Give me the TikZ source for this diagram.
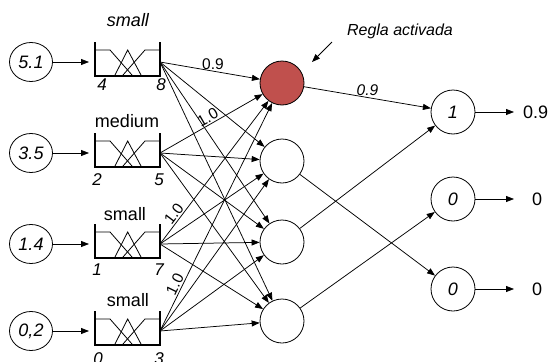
\documentclass[tikz,border=0pt]{standalone}
\usepackage{fontspec}
\setmainfont{Liberation Sans}
\usetikzlibrary{arrows.meta,shapes.geometric}
\definecolor{rulered}{RGB}{192,80,77}

\tikzset{
  % membership-function box: left/right bars, base line, three fuzzy sets
  mfbox/.pic={
    \draw[line width=0.8pt] (0,-12) -- (15,-12) -- (37,13);
    \draw[line width=0.8pt] (20,13) -- (32.7,-12) -- (46,13);
    \draw[line width=0.8pt] (28,13) -- (50,-12) -- (65,-12);
    \draw[line width=2.6pt, line join=miter] (0,-20) -- (0,14) -- (65,14) -- (65,-20);
  }
}

\begin{document}
\begin{tikzpicture}[x=1pt,y=-1pt,
  conn/.style={draw, line width=0.75pt, -{Triangle[length=8pt,width=6pt]}},
  inp/.style={draw, ellipse, line width=0.8pt, minimum width=43pt, minimum height=39pt,
              inner sep=0pt, font=\fontsize{18}{20}\selectfont\itshape},
  rulenode/.style={draw, circle, line width=0.8pt, minimum size=44pt, inner sep=0pt,
              font=\fontsize{18}{20}\selectfont\itshape},
  setlab/.style={anchor=base, inner sep=0pt, font=\fontsize{18}{20}\selectfont},
  bound/.style={anchor=base, inner sep=0pt, font=\fontsize{17}{19}\selectfont\itshape},
  wlab/.style={inner sep=1.5pt, font=\fontsize{15.5}{17}\selectfont},
  outlab/.style={anchor=west, inner sep=0pt, font=\fontsize{18}{20}\selectfont}
]
\useasboundingbox (0,0) rectangle (550,362);

% inputs
\node[inp] (i1) at (31,62)  {5.1};
\node[inp] (i2) at (31,153) {3.5};
\node[inp] (i3) at (31,244) {1.4};
\node[inp] (i4) at (31,331) {0,2};

% fuzzification boxes
\foreach \k/\y in {1/62, 2/153, 3/244, 4/331}{
  \pic at (95,\y) {mfbox};
  \coordinate (bi\k) at (89,\y);
  \coordinate (b\k) at (160,\y);
  \draw[conn] (i\k) -- (bi\k);
}

% set names and ranges
\node[setlab, font=\fontsize{18}{20}\selectfont\itshape] (s1) at (128,26) {small};
\node[setlab] (s2) at (127,127) {medium};
\node[setlab] (s3) at (125,220) {small};
\node[setlab] (s4) at (128,306) {small};

\node[bound] (d1a) at (102,90)  {4};
\node[bound] (d1b) at (161,90)  {8};
\node[bound] (d2a) at (97,185)  {2};
\node[bound] (d2b) at (159,185) {5};
\node[bound] (d3a) at (97,275)  {1};
\node[bound] (d3b) at (159,275) {7};
\node[bound] (d4a) at (98,364)  {0};
\node[bound] (d4b) at (159,364) {3};

% rule layer
\node[rulenode, fill=rulered] (h1) at (282,83) {};
\node[rulenode] (h2) at (282,161) {};
\node[rulenode] (h3) at (282,242) {};
\node[rulenode] (h4) at (282,321) {};

% output layer
\node[rulenode] (o1) at (453,112) {1};
\node[rulenode] (o2) at (453,199) {0};
\node[rulenode] (o3) at (453,289) {0};

% boxes to rules
\foreach \b in {1,...,4}{
  \foreach \h in {1,...,4}{
    \draw[conn] (b\b) -- (h\h);
  }
}
\path (b1) -- node[wlab, above, pos=0.53] {0.9} (h1);
\path (b2) -- node[wlab, above, sloped, pos=0.5] {1.0} (h1);
\path (b3) -- node[wlab, above, sloped, pos=0.18] {1.0} (h1);
\path (b4) -- node[wlab, above, sloped, pos=0.19] {1.0} (h1);

% rules to outputs
\draw[conn] (h1) -- node[wlab, above, pos=0.5, font=\fontsize{15.5}{17}\selectfont\itshape] {0.9} (o1);
\draw[conn] (h2) -- (o3);
\draw[conn] (h3) -- (o1);
\draw[conn] (h4) -- (o2);

% crisp outputs
\coordinate (e1) at (514,112);
\coordinate (e2) at (514,199);
\coordinate (e3) at (514,289);
\draw[conn] (o1) -- (e1);
\draw[conn] (o2) -- (e2);
\draw[conn] (o3) -- (e3);
\node[outlab] (v1) at (523,112) {0.9};
\node[outlab] (v2) at (532,199) {0};
\node[outlab] (v3) at (532,289) {0};

% annotation
\node[anchor=base, font=\fontsize{16}{18}\selectfont\itshape, inner sep=0pt] (regla) at (400,35) {Regla activada};
\coordinate (reglatail) at (332,42);
\coordinate (reglahead) at (312,62);
\draw[conn] (reglatail) -- (reglahead);
\end{tikzpicture}
\end{document}
